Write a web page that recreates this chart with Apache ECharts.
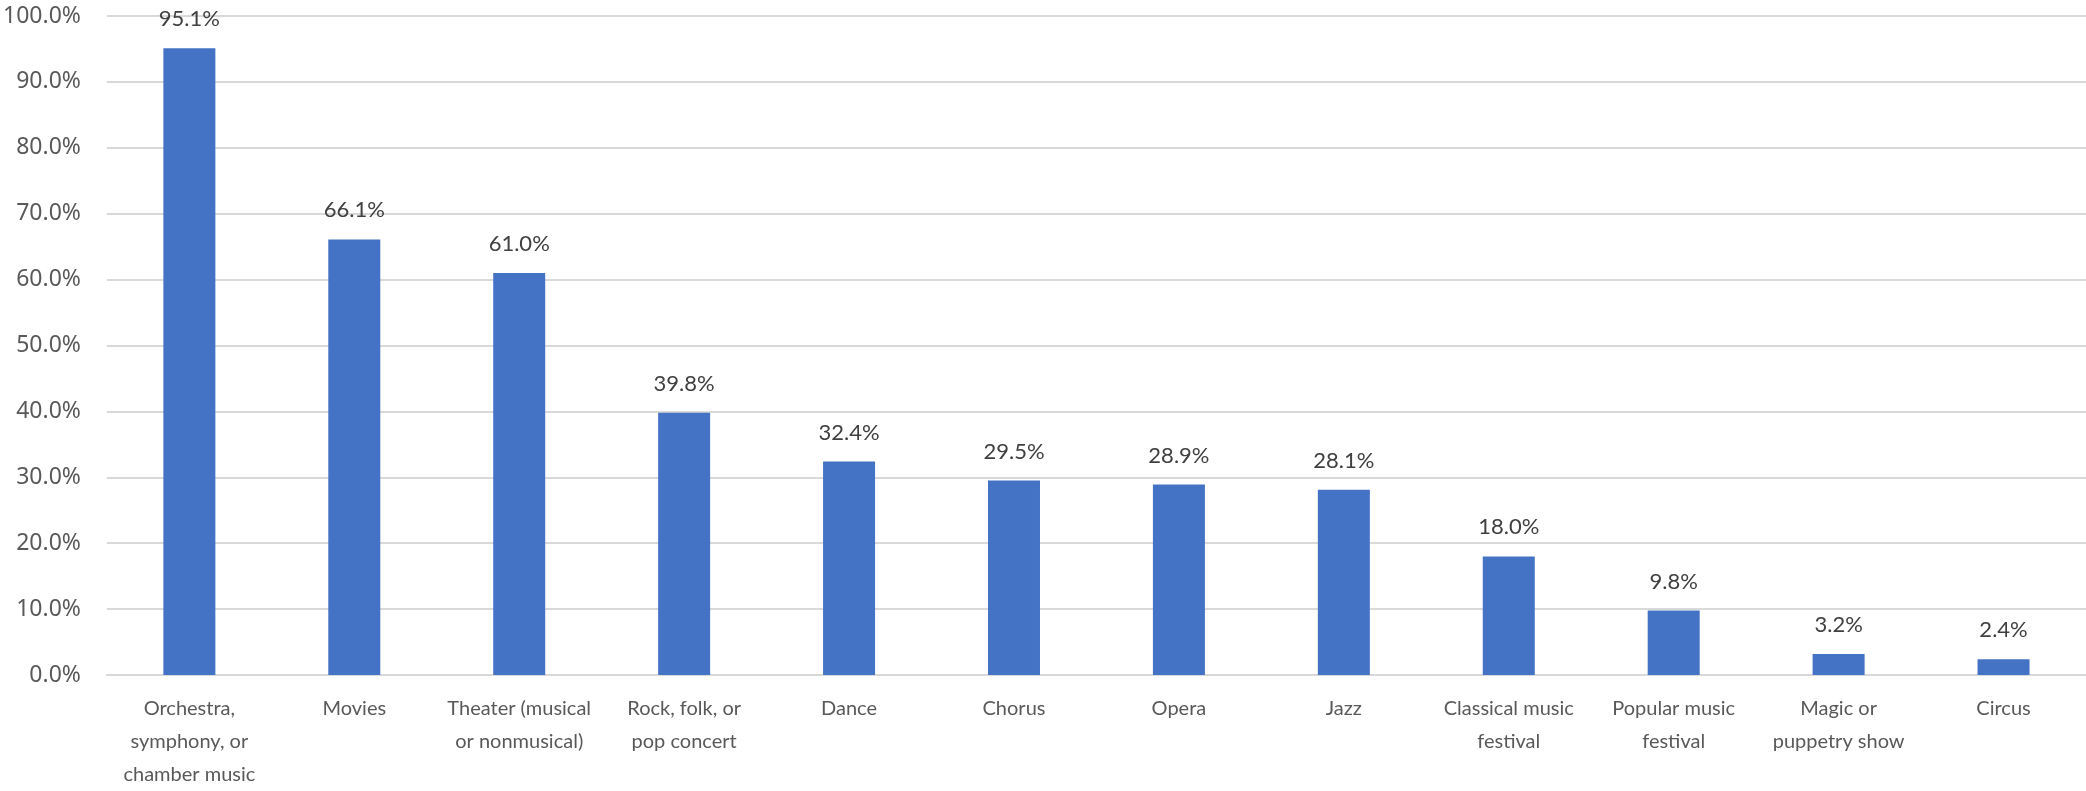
<!DOCTYPE html>
<html>
<head>
<meta charset="utf-8">
<script src="https://cdn.jsdelivr.net/npm/echarts@6/dist/echarts.min.js"></script>
<style>
html,body{margin:0;padding:0;background:#fff;}
#chart{width:2086px;height:791px;}
</style>
</head>
<body>
<div id="chart"></div>
<script>
const categories = [
  "Orchestra,\nsymphony, or\nchamber music",
  "Movies",
  "Theater (musical\nor nonmusical)",
  "Rock, folk, or\npop concert",
  "Dance",
  "Chorus",
  "Opera",
  "Jazz",
  "Classical music\nfestival",
  "Popular music\nfestival",
  "Magic or\npuppetry show",
  "Circus"
];
const values = [95.1, 66.1, 61.0, 39.8, 32.4, 29.5, 28.9, 28.1, 18.0, 9.8, 3.2, 2.4];

const chart = echarts.init(document.getElementById('chart'));
chart.setOption({
  animation: false,
  grid: { left: 104, right: 0, top: 16, bottom: 112, containLabel: false },
  xAxis: {
    type: 'category',
    data: categories,
    axisLine: { lineStyle: { color: '#d9d9d9', width: 2 } },
    axisTick: { show: false },
    axisLabel: {
      interval: 0,
      color: '#595959',
      fontFamily: 'Lato',
      fontSize: 20,
      lineHeight: 33,
      margin: 17
    }
  },
  yAxis: {
    type: 'value',
    min: 0,
    max: 100,
    interval: 10,
    axisLine: { show: false },
    axisTick: { show: false },
    splitLine: { lineStyle: { color: '#d9d9d9', width: 2 } },
    axisLabel: {
      color: '#595959',
      fontFamily: 'Noto Sans',
      fontSize: 23,
      margin: 26,
      formatter: v => v.toFixed(1) + '%'
    }
  },
  series: [{
    type: 'bar',
    data: values,
    barWidth: 52,
    itemStyle: { color: '#4472C4' },
    label: {
      show: true,
      position: 'top',
      distance: 18,
      color: '#404040',
      fontFamily: 'Lato',
      fontSize: 22,
      formatter: p => p.value.toFixed(1) + '%'
    }
  }]
});
</script>
</body>
</html>
